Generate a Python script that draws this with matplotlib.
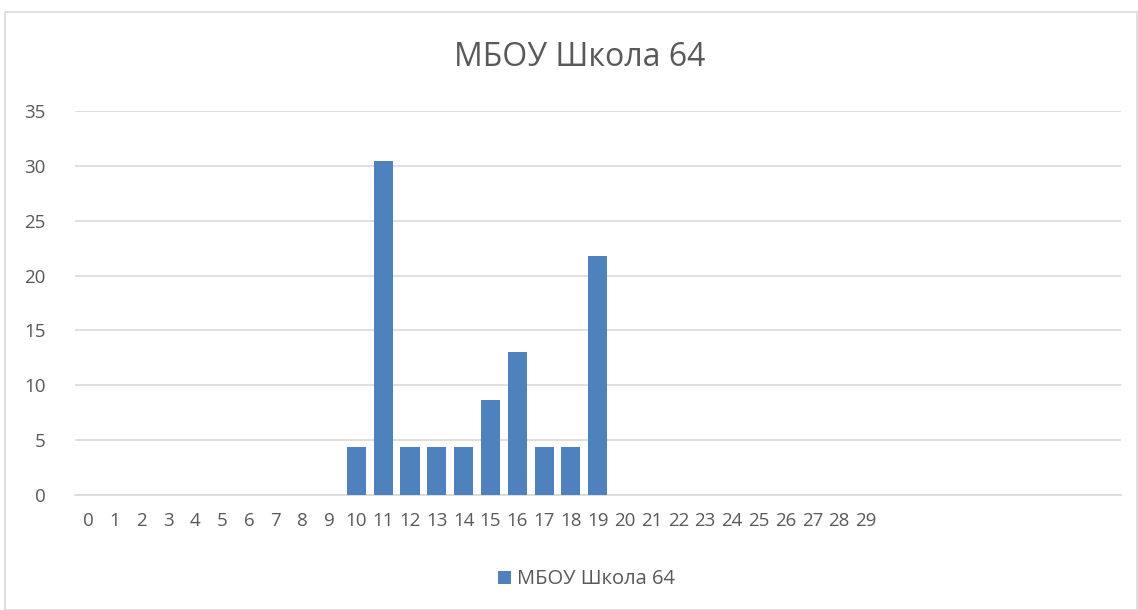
import matplotlib
matplotlib.use('Agg')
import matplotlib.pyplot as plt
from matplotlib.patches import Rectangle

# данные диаграммы (проценты по баллам)
categories = [str(i) for i in range(30)] + [''] * 9
values = [0, 0, 0, 0, 0, 0, 0, 0, 0, 0,
          4.35, 30.43, 4.35, 4.35, 4.35, 8.7, 13.04, 4.35, 4.35, 21.74,
          0, 0, 0, 0, 0, 0, 0, 0, 0, 0,
          0, 0, 0, 0, 0, 0, 0, 0, 0]
y_ticks = [0, 5, 10, 15, 20, 25, 30, 35]
series_name = 'МБОУ Школа 64'

TEXT_COLOR = '#595959'
BAR_COLOR = '#4f81bd'
GRID_COLOR = '#d9d9d9'

plt.rcParams['font.family'] = ['Open Sans', 'DejaVu Sans']

fig = plt.figure(figsize=(11.38, 6.1), dpi=100)
ax = fig.add_axes([0.0656, 0.1885, 0.9194, 0.6295])

x = list(range(len(categories)))
ax.bar(x, values, width=0.71, color=BAR_COLOR, label=series_name, zorder=3)

ax.set_xlim(-0.5, len(categories) - 0.5)
ax.set_ylim(0, 35)
ax.set_yticks(y_ticks)
ax.set_xticks(x)
ax.set_xticklabels(categories)
ax.grid(axis='y', color=GRID_COLOR, linewidth=1.2, zorder=0)
ax.tick_params(axis='both', length=0, labelsize=13.5, colors=TEXT_COLOR)
ax.tick_params(axis='x', pad=12)
ax.tick_params(axis='y', pad=21)
for sp in ['top', 'right', 'left']:
    ax.spines[sp].set_visible(False)
ax.spines['bottom'].set_color(GRID_COLOR)
ax.spines['bottom'].set_linewidth(1.2)

fig.text(0.509, 0.906, series_name, ha='center', va='center', fontsize=23, color=TEXT_COLOR)

fig.legend(loc='center', bbox_to_anchor=(0.515, 0.05), frameon=False,
           fontsize=14.5, labelcolor=TEXT_COLOR, handlelength=0.65, handleheight=0.65,
           handletextpad=0.3)

# рамка области диаграммы
fig.patches.append(Rectangle((0.004, 0.0), 0.995, 0.98, transform=fig.transFigure,
                             fill=False, edgecolor=GRID_COLOR, linewidth=1.2))

fig.savefig('out.png', dpi=100)
